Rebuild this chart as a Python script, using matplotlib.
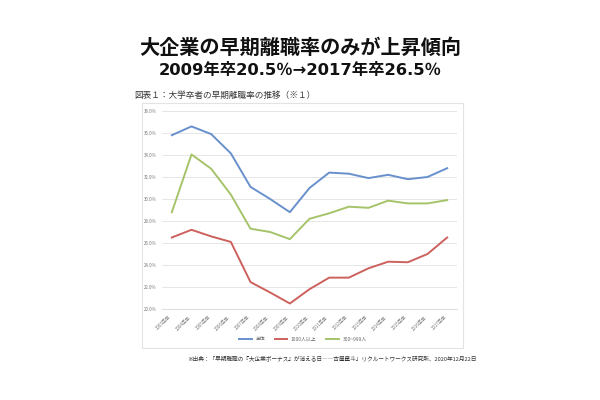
import matplotlib
matplotlib.use("Agg")
import matplotlib.pyplot as plt
from matplotlib.patches import Rectangle

plt.rcParams['font.family'] = ['Noto Sans CJK JP', 'DejaVu Sans']

years = [f"{y}年卒" for y in range(2003, 2018)]
overall = [35.8, 36.6, 35.9, 34.15, 31.1, 30.0, 28.8, 31.0, 32.4, 32.3, 31.9, 32.2, 31.8, 32.0, 32.8]
large = [26.5, 27.2, 26.6, 26.1, 22.45, 21.5, 20.5, 21.8, 22.85, 22.85, 23.7, 24.3, 24.25, 25.0, 26.5]
mid = [28.8, 34.05, 32.75, 30.4, 27.3, 27.0, 26.35, 28.2, 28.7, 29.3, 29.2, 29.85, 29.6, 29.6, 29.9]
series_names = ["全体", "1000人以上", "300~999人"]
yticks = [20, 22, 24, 26, 28, 30, 32, 34, 36, 38]

W, H = 600, 400
fig = plt.figure(figsize=(6, 4), dpi=100)

def fx(x):
    return x / W

def fy(y):
    return 1 - y / H

fig.text(0.5, fy(47), "大企業の早期離職率のみが上昇傾向", ha="center", va="center",
         fontsize=14.5, fontweight="bold", color="#111111")
fig.text(0.5, fy(71), "2009年卒20.5％→2017年卒26.5％", ha="center", va="center",
         fontsize=11.8, fontweight="bold", color="#111111",
         family=['DejaVu Sans', 'Noto Sans CJK JP'])
fig.text(fx(134), fy(95), "図表１：大学卒者の早期離職率の推移（※１）", ha="left", va="center",
         fontsize=6.2, color="#333333")
fig.text(fx(187), fy(359), "※出典：「早期離職の『大企業ボーナス』が消える日――古屋星斗」リクルートワークス研究所、2020年12月22日",
         ha="left", va="center", fontsize=4.1, color="#333333")

fig.patches.append(Rectangle((fx(142), fy(348)), fx(463) - fx(142), fy(103) - fy(348),
                             transform=fig.transFigure, fill=False, edgecolor="#e3e3e3", lw=0.8))

ax = fig.add_axes([fx(162), fy(309), fx(457) - fx(162), fy(111) - fy(309)])
x = list(range(len(years)))
ax.plot(x, overall, color="#6890cc", lw=1.4, label=series_names[0])
ax.plot(x, large, color="#cc615d", lw=1.4, label=series_names[1])
ax.plot(x, mid, color="#a5c46a", lw=1.4, label=series_names[2])
ax.set_xlim(-0.5, len(years) - 0.5)
ax.set_ylim(20, 38)
ax.set_yticks(yticks)
ax.set_yticklabels([f"{v:.1f}%" for v in yticks], fontsize=3.2, color="#777777")
ax.set_xticks(x)
ax.set_xticklabels(years, rotation=45, ha="right", fontsize=3.2, color="#777777")
ax.tick_params(length=0, pad=4)
ax.grid(axis="y", color="#e6e6e6", lw=0.7)
ax.set_axisbelow(True)
for s in ["top", "right", "left"]:
    ax.spines[s].set_visible(False)
ax.spines["bottom"].set_color("#e0e0e0")

fig.legend(loc="center", bbox_to_anchor=(fx(303), fy(339)), ncol=3, frameon=False,
           fontsize=3.5, handlelength=2.5, columnspacing=2, labelcolor="#666666")

fig.savefig("out.png", dpi=100)
